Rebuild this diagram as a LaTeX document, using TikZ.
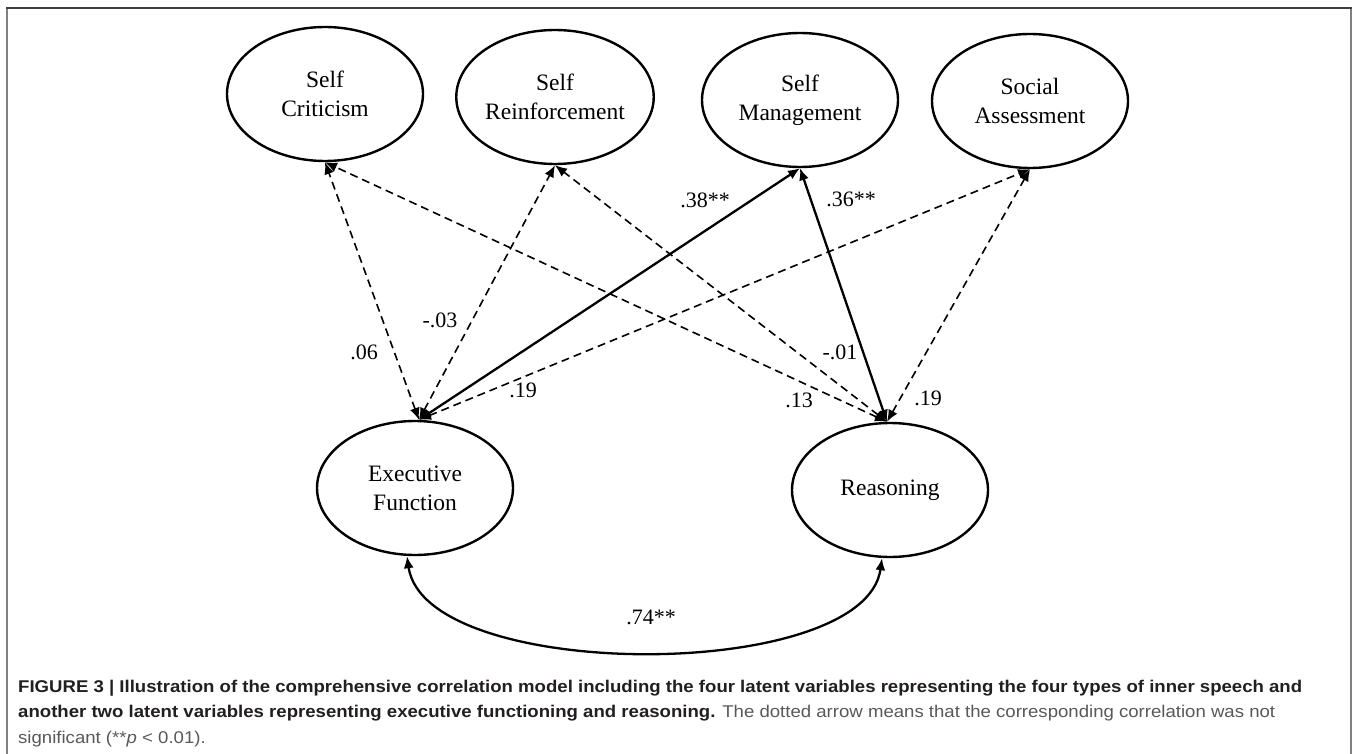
\documentclass[tikz,border=0pt]{standalone}
\usepackage{fontspec}
\setmainfont{Liberation Serif}
\setsansfont{Liberation Sans}
\usetikzlibrary{shapes.geometric,arrows.meta}
\definecolor{capdark}{HTML}{231F20}
\definecolor{capgray}{HTML}{58595B}
\definecolor{framegray}{HTML}{808080}
\definecolor{framedark}{HTML}{404040}
\newlength\capwidthA
\newcommand\capfont{\sffamily\fontsize{17}{20}\selectfont}
\newcommand\caplineA{\textbf{FIGURE 3 | Illustration of the comprehensive correlation model including the four latent variables representing the four types of inner speech and}}
\begin{document}
\begin{tikzpicture}[x=1pt,y=-1pt,
  lat/.style={ellipse, draw, line width=2.4pt, minimum width=196pt, minimum height=134pt, inner sep=0pt, font=\fontsize{23.5}{29}\selectfont, align=center},
  corr/.style={{Latex[length=12pt,width=10pt]}-{Latex[length=12pt,width=10pt]}, line width=2.3pt},
  ns/.style={corr, line width=1.6pt, dash pattern=on 8pt off 5pt},
  lab/.style={font=\fontsize{22}{24}\selectfont, inner sep=1pt},
  captext/.style={anchor=base west, font=\capfont, inner sep=0pt, color=capgray},
]
\useasboundingbox (0,0) rectangle (1358,754);
\fill[white] (0,0) rectangle (1358,754);
\draw[color=framegray, line width=2pt] (7,754) -- (7,8);
\draw[color=framegray, line width=2pt] (1351,8) -- (1351,754);
\draw[color=framedark, line width=2pt] (6,8) -- (1352,8);

\node[lat] (sc) at (325,94) {Self\\Criticism};
\node[lat] (sr) at (555,97) {Self\\Reinforcement};
\node[lat] (sm) at (800,100) {Self\\Management};
\node[lat] (sa) at (1030,101) {Social\\Assessment};
\node[lat] (ef) at (415,488) {Executive\\Function};
\node[lat] (re) at (890,490) {Reasoning};

\coordinate (efT) at ([xshift=4pt]ef.north);
\coordinate (reT) at ([xshift=-3pt]re.north);
\coordinate (efB) at ([xshift=-8pt]ef.south);
\coordinate (reB) at ([xshift=-8pt]re.south);

\draw[ns] (efT) -- (sc.south);
\draw[ns] (efT) -- (sr.south);
\draw[corr] (efT) -- (sm.south);
\draw[ns] (efT) -- (sa.south);
\draw[ns] (reT) -- (sc.south);
\draw[ns] (reT) -- (sr.south);
\draw[corr] (reT) -- (sm.south);
\draw[ns] (reT) -- (sa.south);
\draw[corr] (efB) .. controls (425,683) and (865,683) .. (reB);

\node[lab] (l1) at (364,352) {.06};
\node[lab] (l2) at (440,320) {-.03};
\node[lab] (l3) at (523,390) {.19};
\node[lab] (l4) at (705,200) {.38**};
\node[lab] (l5) at (851,199) {.36**};
\node[lab] (l6) at (840,352) {-.01};
\node[lab] (l7) at (799,400) {.13};
\node[lab] (l8) at (928,398) {.19};
\node[lab] (l9) at (651,617) {.74**};

\node[captext, color=capdark] (c1) at (18,692) {\settowidth\capwidthA{\caplineA}\pgfmathsetmacro\capfac{1284/\capwidthA}\xdef\capfacG{\capfac}\scalebox{\capfacG}[1]{\caplineA}};
\node[captext] (c2) at (18,717.5) {\scalebox{\capfacG}[1]{\textcolor{capdark}{\textbf{another two latent variables representing executive functioning and reasoning.}} The dotted arrow means that the corresponding correlation was not}};
\node[captext] (c3) at (18,743) {\scalebox{\capfacG}[1]{significant (**\textit{p} < 0.01).}};
\end{tikzpicture}
\end{document}
